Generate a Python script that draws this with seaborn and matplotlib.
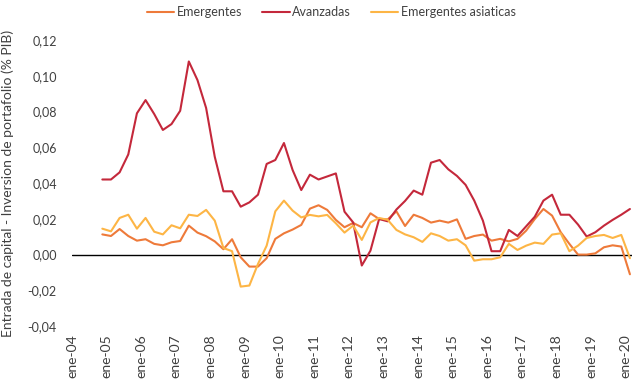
import numpy as np
import pandas as pd
import matplotlib
matplotlib.use("Agg")
import matplotlib.pyplot as plt
from matplotlib.ticker import FuncFormatter, FixedLocator
import seaborn as sns

# Quarterly flows, 2004Q4 - 2020Q1 (share of GDP)
quarters = pd.period_range("2004Q4", "2020Q1", freq="Q")

emergentes = [
    0.0113, 0.0104, 0.0143, 0.0104, 0.0078, 0.0086, 0.0060, 0.0052, 0.0069, 0.0076,
    0.0162, 0.0123, 0.0103, 0.0074, 0.0030, 0.0086, -0.0015, -0.0067, -0.0067, -0.0020,
    0.0088, 0.0119, 0.0140, 0.0166, 0.0257, 0.0276, 0.0250, 0.0194, 0.0153, 0.0177,
    0.0153, 0.0231, 0.0199, 0.0197, 0.0242, 0.0160, 0.0223, 0.0205, 0.0179, 0.0190,
    0.0179, 0.0197, 0.0088, 0.0104, 0.0112, 0.0078, 0.0088, 0.0074, 0.0088, 0.0134,
    0.0199, 0.0255, 0.0218, 0.0125, 0.0060, 0.0000, 0.0000, 0.0007, 0.0041, 0.0052,
    0.0045, -0.0110,
]

avanzadas = [
    0.0420, 0.0420, 0.0460, 0.0560, 0.0790, 0.0864, 0.0786, 0.0697, 0.0730, 0.0804,
    0.1080, 0.0976, 0.0820, 0.0547, 0.0354, 0.0354, 0.0268, 0.0292, 0.0335, 0.0507,
    0.0529, 0.0624, 0.0473, 0.0361, 0.0447, 0.0420, 0.0437, 0.0454, 0.0240, 0.0180,
    -0.0061, 0.0022, 0.0199, 0.0186, 0.0252, 0.0300, 0.0358, 0.0335, 0.0514, 0.0529,
    0.0477, 0.0440, 0.0390, 0.0302, 0.0190, 0.0019, 0.0019, 0.0138, 0.0104, 0.0158,
    0.0212, 0.0302, 0.0335, 0.0223, 0.0223, 0.0168, 0.0101, 0.0125, 0.0162, 0.0194,
    0.0223, 0.0255,
]

emergentes_asiaticas = [
    0.0145, 0.0130, 0.0205, 0.0223, 0.0145, 0.0205, 0.0128, 0.0113, 0.0164, 0.0147,
    0.0223, 0.0216, 0.0250, 0.0190, 0.0037, 0.0019, -0.0179, -0.0173, -0.0052, 0.0050,
    0.0242, 0.0302, 0.0246, 0.0208, 0.0222, 0.0214, 0.0222, 0.0175, 0.0123, 0.0162,
    0.0082, 0.0180, 0.0205, 0.0194, 0.0138, 0.0113, 0.0097, 0.0071, 0.0119, 0.0104,
    0.0078, 0.0086, 0.0052, -0.0034, -0.0026, -0.0026, -0.0015, 0.0060, 0.0026, 0.0050,
    0.0067, 0.0060, 0.0112, 0.0119, 0.0019, 0.0050, 0.0093, 0.0104, 0.0110, 0.0093,
    0.0110, -0.0020,
]

series_names = ["Emergentes", "Avanzadas", "Emergentes asiaticas"]
colors = ["#EE7A3A", "#C4283B", "#FDB545"]
tick_years = list(range(2004, 2021))
tick_labels = [f"ene-{y % 100:02d}" for y in tick_years]

# Position each quarter at its centre on a decimal-year axis
xpos = np.array([q.year + (q.quarter - 1) / 4 + 0.125 for q in quarters])

df = pd.concat(
    [
        pd.DataFrame({"fecha": xpos, "valor": vals, "serie": name})
        for name, vals in zip(series_names, [emergentes, avanzadas, emergentes_asiaticas])
    ],
    ignore_index=True,
)

sns.set_style("white")
plt.rcParams["font.family"] = ["Lato", "DejaVu Sans"]

fig = plt.figure(figsize=(6.32, 3.81), dpi=100)
ax = fig.add_axes([0.114, 0.144, 0.886, 0.751])

sns.lineplot(
    data=df, x="fecha", y="valor", hue="serie", hue_order=series_names,
    palette=colors, linewidth=1.5, ax=ax, legend=False,
)

ax.axhline(0, color="black", linewidth=1.0, zorder=1)

ax.set_xlim(2004.0, 2020.185)
ax.set_ylim(-0.04, 0.12)
ax.yaxis.set_major_locator(FixedLocator(np.arange(-0.04, 0.1201, 0.02)))
ax.yaxis.set_major_formatter(FuncFormatter(lambda v, _: f"{v:.2f}".replace(".", ",").replace("-0,00", "0,00")))
ax.set_xticks(tick_years)
ax.set_xticklabels(tick_labels, rotation=90, fontsize=10, color="#404040")
ax.tick_params(axis="y", length=0, pad=11, labelsize=9, labelcolor="#404040")
ax.tick_params(axis="x", length=0, pad=6)

for s in ax.spines.values():
    s.set_visible(False)

ax.set_xlabel("")
ax.set_ylabel("Entrada de capital - Inversion de portafolio (% PIB)", fontsize=10, color="#404040")
ax.yaxis.set_label_coords(-0.104, 0.5)

handles = [plt.Line2D([], [], color=c, linewidth=1.5) for c in colors]
fig.legend(
    handles, series_names, loc="center", bbox_to_anchor=(0.524, 0.968), ncol=3,
    frameon=False, fontsize=9.0, handlelength=2.2, handletextpad=0.2, columnspacing=1.6,
    labelcolor="#404040",
)

fig.savefig("out.png", dpi=100)
